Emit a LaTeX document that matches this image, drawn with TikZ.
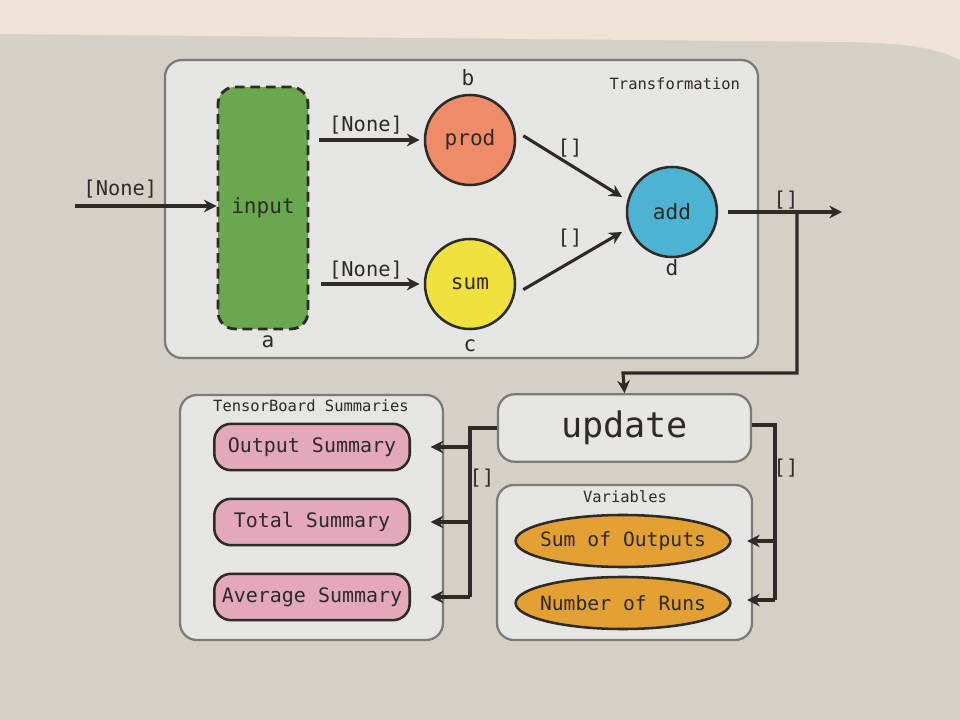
\documentclass[tikz,border=0pt]{standalone}
\usepackage{fontspec}
\setmonofont{DejaVu Sans Mono}
\usetikzlibrary{arrows.meta,shapes.geometric}
\definecolor{pagebg}{HTML}{D5D0C6}
\definecolor{pagetop}{HTML}{EFE3D8}
\definecolor{boxbg}{HTML}{E5E5E2}
\definecolor{boxline}{HTML}{7A7A78}
\definecolor{ink}{HTML}{2E2A28}
\definecolor{ingreen}{HTML}{6AA84F}
\definecolor{prodc}{HTML}{EE8B68}
\definecolor{sumc}{HTML}{F0E23E}
\definecolor{addc}{HTML}{4EB2D2}
\definecolor{pinkc}{HTML}{E3A8BC}
\definecolor{orangec}{HTML}{E3A133}
\tikzset{
  every node/.style={font=\ttfamily, text=ink},
  group/.style={draw=boxline, line width=1.6pt, fill=boxbg, rounded corners=12pt},
  grouptitle/.style={font=\ttfamily\fontsize{11}{13}\selectfont, text=ink},
  opnode/.style={circle, draw=ink, line width=1.8pt, minimum size=64pt, inner sep=0pt, font=\ttfamily\fontsize{15}{17}\selectfont},
  lbl/.style={font=\ttfamily\fontsize{15}{17}\selectfont},
  edgelbl/.style={font=\ttfamily\fontsize{14.5}{17}\selectfont},
  conn/.style={draw=ink, line width=2.2pt, -{Stealth[length=9pt,width=9pt]}},
  plain/.style={draw=ink, line width=2.2pt},
  sumbox/.style={draw=ink, line width=1.8pt, fill=pinkc, rounded corners=12pt, minimum width=139pt, minimum height=33pt, font=\ttfamily\fontsize{14.2}{17}\selectfont},
  varell/.style={ellipse, draw=ink, line width=1.8pt, fill=orangec, minimum width=152pt, minimum height=37pt, inner xsep=-5pt, inner ysep=0pt, font=\ttfamily\fontsize{14}{17}\selectfont}
}
\begin{document}
\begin{tikzpicture}[x=0.025cm, y=-0.025cm]
% background
\fill[pagebg] (0,0) rectangle (960,720);
\fill[pagetop] (0,0) -- (960,0) -- (960,60) .. controls (930,45) and (900,44) .. (850,42) -- (0,34) -- cycle;
\useasboundingbox (0,0) rectangle (960,720);

% group boxes
\draw[group] (165,60) rectangle (758,358);
\node[grouptitle, anchor=east] (ttrans) at (745,84) {Transformation};
\draw[group] (180,395) rectangle (443,640);
\node[grouptitle] (ttb) at (311,406) {TensorBoard Summaries};
\draw[group] (497,485) rectangle (752,640);
\node[grouptitle] (tvar) at (625,497) {Variables};

% input node
\node[draw=ink, dashed, dash pattern=on 7pt off 4pt, line width=2pt, fill=ingreen, rounded corners=12pt,
      minimum width=64pt, minimum height=172pt, font=\ttfamily\fontsize{15}{17}\selectfont] (input) at (263,208) {input};
\node[lbl] (la) at (268,342) {a};

% op nodes
\node[opnode, fill=prodc] (prod) at (470,140) {prod};
\node[lbl] (lb) at (468,78) {b};
\node[opnode, fill=sumc] (sum) at (470,284) {sum};
\node[lbl] (lc) at (470,346) {c};
\node[opnode, fill=addc] (add) at (672,212) {add};
\node[lbl] (ld) at (672,268) {d};

% update node
\node[draw=boxline, line width=1.6pt, fill=boxbg, rounded corners=12pt, minimum width=180pt, minimum height=48pt,
      font=\ttfamily\fontsize{25}{28}\selectfont] (update) at (624.5,428) {update};

% summaries
\node[sumbox] (osum) at (312,447) {Output Summary};
\node[sumbox] (tsum) at (312,522) {Total Summary};
\node[sumbox] (asum) at (312,597) {Average Summary};

% variables
\node[varell] (sumout) at (623,541) {Sum of Outputs};
\node[varell] (nruns) at (623,603) {Number of Runs};

% coordinates
\coordinate (inpin) at (75,206);
\coordinate (outend) at (842,212);
\coordinate (br) at (797,212);
\coordinate (brd) at (797,373);
\coordinate (upin) at (623,373);
\coordinate (lj) at (470,428);
\coordinate (rj) at (775,425);
\coordinate (addin1) at (622,197);
\coordinate (addin2) at (622,232);

% edges
\draw[conn] (inpin) -- (input.west |- inpin) node[edgelbl, pos=0.32, above=1pt] (l0) {[None]};
\draw[conn] (input.east |- prod) ++(10,0) coordinate (ip1) (ip1) -- ([xshift=-3pt]prod.west);
\node[edgelbl] (l1) at (366,125) {[None]};
\draw[conn] (input.east |- sum) ++(12,0) coordinate (ip2) (ip2) -- ([xshift=-3pt]sum.west);
\node[edgelbl] (l2) at (366,270) {[None]};
\draw[conn] ([shift={(5pt,3pt)}]prod.east) -- (addin1);
\node[edgelbl] (l3) at (570,148) {[]};
\draw[conn] ([shift={(5pt,-4pt)}]sum.east) -- (addin2);
\node[edgelbl] (l4) at (570,238) {[]};
\draw[conn] ([xshift=7pt]add.east) -- (outend);
\node[edgelbl] (l5) at (786,200) {[]};
\draw[conn] (br) -- (brd) -- (upin) -- (update.north);

% update -> summaries
\draw[plain] (update.west |- lj) -- (lj) -- (470,597);
\draw[conn] (470,447) -- ([xshift=14pt]osum.east);
\draw[conn] (470,522) -- ([xshift=14pt]tsum.east);
\draw[conn] (470,597) -- ([xshift=14pt]asum.east);
\node[edgelbl] (l6) at (482,478) {[]};

% update -> variables
\draw[plain] (update.east |- rj) -- (rj) -- (775,600);
\draw[conn] (775,541) -- ([xshift=11pt]sumout.east);
\draw[conn] (775,600) -- ([xshift=11pt]nruns.east |- 775,600);
\node[edgelbl] (l7) at (786,468) {[]};
\end{tikzpicture}
\end{document}
